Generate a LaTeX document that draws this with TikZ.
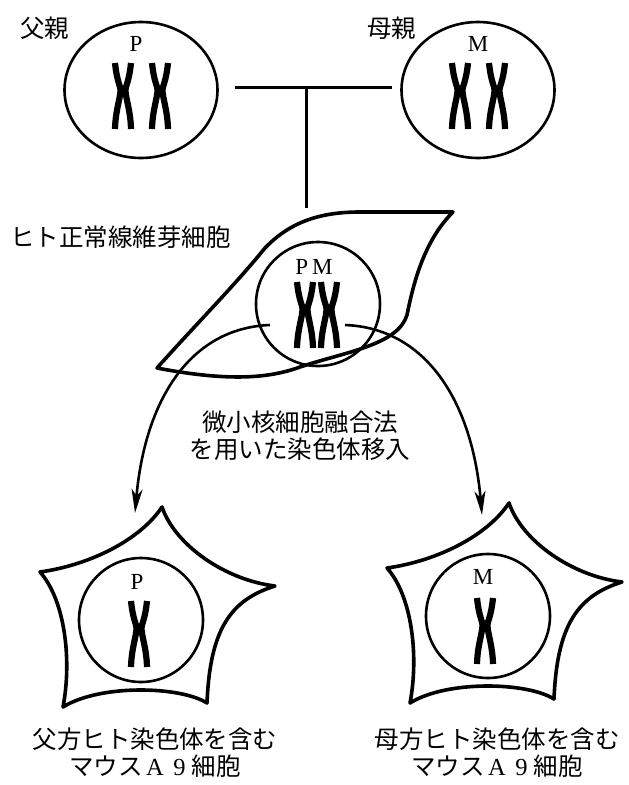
\documentclass[tikz,border=0pt]{standalone}
\usepackage{fontspec}
\setmainfont{Liberation Serif}
\newfontfamily\jp{Noto Sans CJK JP}
\usetikzlibrary{arrows.meta,shapes.geometric}

% serif letter set in a full-width box
\newcommand{\zenkaku}[1]{\makebox[1em]{\rmfamily #1}}

\tikzset{
  parent/.style={ellipse, draw, line width=2.6pt, minimum width=153pt, minimum height=136pt, inner sep=0pt},
  nucleus/.style={circle, draw, line width=2.6pt, minimum size=124pt, inner sep=0pt},
  jplabel/.style={font=\jp\fontsize{24.5}{27}\selectfont, inner sep=0pt, align=center},
  letter/.style={font=\fontsize{23}{24}\selectfont, inner sep=0pt},
  wall/.style={line width=3.6pt, line join=round},
  chromatid/.style={line width=6.2pt},
  move/.style={line width=2.6pt, -{Stealth[length=24pt,width=11pt,inset=7pt]}},
  chromo/.pic={
    \draw[chromatid] (-8,-33) .. controls (-6,-14) and (-2.5,-10) .. (-2.5,-6) .. controls (-2.5,2) and (-7.5,14) .. (-8,33);
    \draw[chromatid] (8,-33) .. controls (6,-14) and (2.5,-10) .. (2.5,-6) .. controls (2.5,2) and (7.5,14) .. (8,33);
  },
  mousecell/.pic={
    \draw[wall] (21,-113) .. controls (34,-75) and (84,-40) .. (134,-34)
      .. controls (89,-20) and (69,10) .. (66,83)
      .. controls (39,66) and (-41,64) .. (-78,87)
      .. controls (-69,40) and (-76,-20) .. (-101,-48)
      .. controls (-51,-55) and (-1,-80) .. cycle;
  },
}

\begin{document}
\begin{tikzpicture}[x=1pt, y=-1pt]
  \useasboundingbox (0,0) rectangle (629,785);

  % Parents
  \node[parent] (father) at (141,90) {};
  \node[parent] (mother) at (478,90) {};
  \node[letter] (fatherP) at (136,44) {P};
  \node[letter] (motherM) at (478,44) {M};
  \pic at (123,96) {chromo};
  \pic at (160,96) {chromo};
  \pic at (460,96) {chromo};
  \pic at (497,96) {chromo};
  \node[jplabel, anchor=west] (fatherlbl) at (20,28) {父親};
  \node[jplabel, anchor=west] (motherlbl) at (367,28) {母親};

  % Cross
  \coordinate (tleft) at (235,87);
  \coordinate (tright) at (392,87);
  \coordinate (tjoin) at (306,87);
  \coordinate (tfoot) at (306,208);
  \draw[line width=3pt] (tleft) -- (tright);
  \draw[line width=3pt] (tjoin) -- (tfoot);

  % Fibroblast
  \node[jplabel, anchor=west] (fibrolbl) at (10,237) {ヒト正常線維芽細胞};
  \draw[wall] (157,368) .. controls (200,320) and (235,285) .. (265,248)
    .. controls (290,222) and (320,212) .. (360,212) -- (453,212)
    .. controls (425,240) and (414,280) .. (407,315)
    .. controls (398,345) and (345,352) .. (300,367)
    .. controls (270,378) and (230,382) .. cycle;
  \node[nucleus] (hybrid) at (318,304) {};
  \node[letter] (hybridPM) at (314,267) {P\,M};
  \pic at (305,315) {chromo};
  \pic at (329,315) {chromo};

  % Transfer
  \coordinate (fromP) at (270,325);
  \coordinate (fromM) at (345,325);
  \coordinate (toP) at (135,513);
  \coordinate (toM) at (482,515);
  \draw[move] (fromP) .. controls (190,328) and (145,400) .. (toP);
  \draw[move] (fromM) .. controls (425,328) and (472,400) .. (toM);
  \node[jplabel] (method) at (300,436) {微小核細胞融合法\\を用いた染色体移入};

  % Mouse A9 cells
  \pic at (141,620) {mousecell};
  \pic at (488,616) {mousecell};
  \node[nucleus] (mouseP) at (141,620) {};
  \node[nucleus] (mouseM) at (488,616) {};
  \node[letter] (mousePlbl) at (137,582) {P};
  \node[letter] (mouseMlbl) at (483,577) {M};
  \pic at (139,634) {chromo};
  \pic at (485,631) {chromo};
  \node[jplabel] (fathercell) at (155,753) {父方ヒト染色体を含む\\マウス\zenkaku{A}\zenkaku{9}細胞};
  \node[jplabel] (mothercell) at (497,753) {母方ヒト染色体を含む\\マウス\zenkaku{A}\zenkaku{9}細胞};
\end{tikzpicture}
\end{document}
